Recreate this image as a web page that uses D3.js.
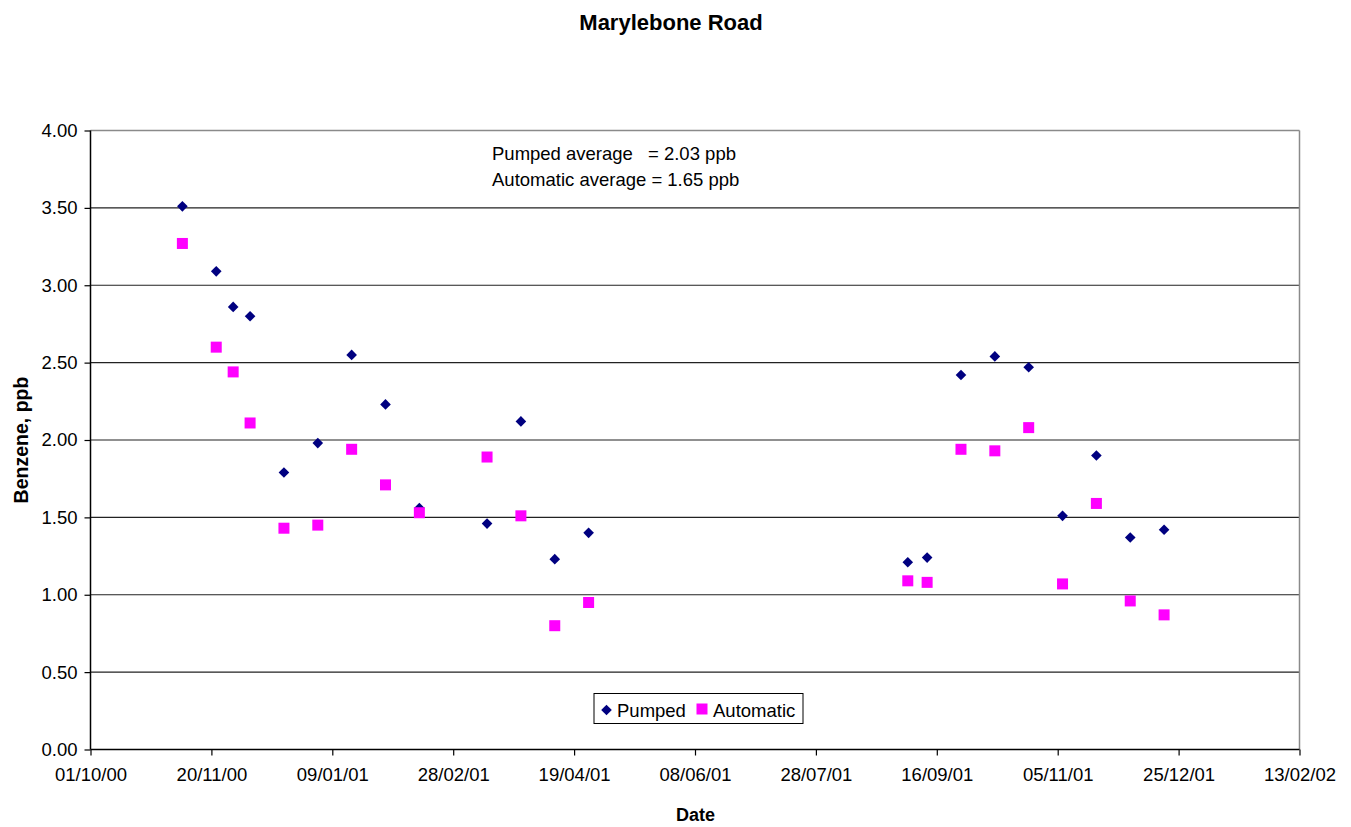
<!DOCTYPE html>
<html>
<head>
<meta charset="utf-8">
<script src="https://cdn.jsdelivr.net/npm/d3@7"></script>
<style>
  html, body { margin: 0; padding: 0; background: #fff; }
  svg { display: block; }
  text { font-family: "Liberation Sans", Arial, sans-serif; fill: #000; }
</style>
</head>
<body>
<svg id="chart" width="1351" height="827"></svg>
<script>
// ---- data ----
const sampleDates = ["2000-11-08","2000-11-22","2000-11-29","2000-12-06","2000-12-20","2001-01-03","2001-01-17","2001-01-31","2001-02-14","2001-03-14","2001-03-28","2001-04-11","2001-04-25","2001-09-04","2001-09-12","2001-09-26","2001-10-10","2001-10-24","2001-11-07","2001-11-21","2001-12-05","2001-12-19"];
const pumped = [3.51,3.09,2.86,2.80,1.79,1.98,2.55,2.23,1.56,1.46,2.12,1.23,1.40,1.21,1.24,2.42,2.54,2.47,1.51,1.90,1.37,1.42];
const automatic = [3.27,2.60,2.44,2.11,1.43,1.45,1.94,1.71,1.53,1.89,1.51,0.80,0.95,1.09,1.08,1.94,1.93,2.08,1.07,1.59,0.96,0.87];
const xTickDates = ["2000-10-01","2000-11-20","2001-01-09","2001-02-28","2001-04-19","2001-06-08","2001-07-28","2001-09-16","2001-11-05","2001-12-25","2002-02-13"];
const yTicks = [0,0.5,1,1.5,2,2.5,3,3.5,4];
const seriesNames = ["Pumped","Automatic"];
const seriesColors = ["#000080","#FF00FF"];
const titleText = "Marylebone Road";
const yLabel = "Benzene, ppb";
const xLabel = "Date";
const noteLines = [["Pumped average", "= 2.03 ppb"], ["Automatic average = 1.65 ppb", ""]];

// ---- layout ----
const parse = d3.utcParse("%Y-%m-%d");
const fmt = d3.utcFormat("%d/%m/%y");
const L = 90.5, R = 1299.5, T = 130.5, B = 749.5;
const FS = 18.5;

const svg = d3.select("#chart");
const x = d3.scaleUtc().domain([parse(xTickDates[0]), parse(xTickDates[xTickDates.length-1])]).range([L, R]);
const y = d3.scaleLinear().domain([0, 4]).range([B, T]);

// gridlines
svg.append("g").selectAll("line").data(yTicks.filter(v => v > 0 && v < 4)).join("line")
  .attr("x1", L).attr("x2", R).attr("y1", d => y(d)).attr("y2", d => y(d))
  .attr("stroke", "#222").attr("stroke-width", 1.2);

// plot border (top/right gray)
svg.append("line").attr("x1", L).attr("x2", R).attr("y1", T).attr("y2", T).attr("stroke", "#8a8a8a").attr("stroke-width", 1.5);
svg.append("line").attr("x1", R).attr("x2", R).attr("y1", T).attr("y2", B).attr("stroke", "#8a8a8a").attr("stroke-width", 1.5);

// axes
const yAxis = d3.axisLeft(y).tickValues(yTicks).tickFormat(d3.format(".2f")).tickSize(6).tickPadding(7);
const gy = svg.append("g").attr("transform", `translate(${L},0)`).call(yAxis);
const xAxis = d3.axisBottom(x).tickValues(xTickDates.map(parse)).tickFormat(fmt).tickSize(6).tickPadding(12);
const gx = svg.append("g").attr("transform", `translate(0,${B})`).call(xAxis);
[gx, gy].forEach(g => {
  g.select(".domain").attr("stroke", "#000").attr("stroke-width", 1.5);
  g.selectAll(".tick line").attr("stroke", "#000").attr("stroke-width", 1.2);
  g.selectAll(".tick text").attr("font-size", FS).attr("font-family", "Liberation Sans, Arial, sans-serif").attr("fill", "#000");
});
gy.select(".domain").attr("d", `M0,${B}V${T}`);
gx.select(".domain").attr("d", `M${L},0H${R}`);

// points
const diamond = d3.symbol().type(d3.symbolDiamond2).size(72);
svg.append("g").selectAll("path").data(sampleDates.map((d, i) => ({d: parse(d), v: pumped[i]}))).join("path")
  .attr("d", diamond)
  .attr("transform", p => `translate(${x(p.d)},${y(p.v)})`)
  .attr("fill", seriesColors[0]);
svg.append("g").selectAll("rect").data(sampleDates.map((d, i) => ({d: parse(d), v: automatic[i]}))).join("rect")
  .attr("x", p => x(p.d) - 5.5).attr("y", p => y(p.v) - 5.5)
  .attr("width", 11).attr("height", 11)
  .attr("fill", seriesColors[1]);

// title & axis labels
svg.append("text").attr("x", 671).attr("y", 30).attr("text-anchor", "middle")
  .attr("font-size", 22).attr("font-weight", "bold").text(titleText);
svg.append("text").attr("transform", "translate(28,440) rotate(-90)").attr("text-anchor", "middle")
  .attr("font-size", 19.5).attr("font-weight", "bold").text(yLabel);
svg.append("text").attr("x", 695.5).attr("y", 821).attr("text-anchor", "middle")
  .attr("font-size", 18).attr("font-weight", "bold").text(xLabel);

// annotation
const note = svg.append("g");
note.append("text").attr("x", 492).attr("y", 160).attr("font-size", FS).text(noteLines[0][0]);
note.append("text").attr("x", 648).attr("y", 160).attr("font-size", FS).text(noteLines[0][1]);
note.append("text").attr("x", 492).attr("y", 186).attr("font-size", FS).text(noteLines[1][0]);

// legend
const lg = svg.append("g");
lg.append("rect").attr("x", 594).attr("y", 693.5).attr("width", 209).attr("height", 30)
  .attr("fill", "#fff").attr("stroke", "#000").attr("stroke-width", 1);
lg.append("path").attr("d", diamond).attr("transform", "translate(606.5,710)").attr("fill", seriesColors[0]);
lg.append("text").attr("x", 617).attr("y", 716.5).attr("font-size", FS).text(seriesNames[0]);
lg.append("rect").attr("x", 696.5).attr("y", 703.5).attr("width", 11).attr("height", 11).attr("fill", seriesColors[1]);
lg.append("text").attr("x", 713).attr("y", 716.5).attr("font-size", FS).text(seriesNames[1]);
</script>
</body>
</html>
